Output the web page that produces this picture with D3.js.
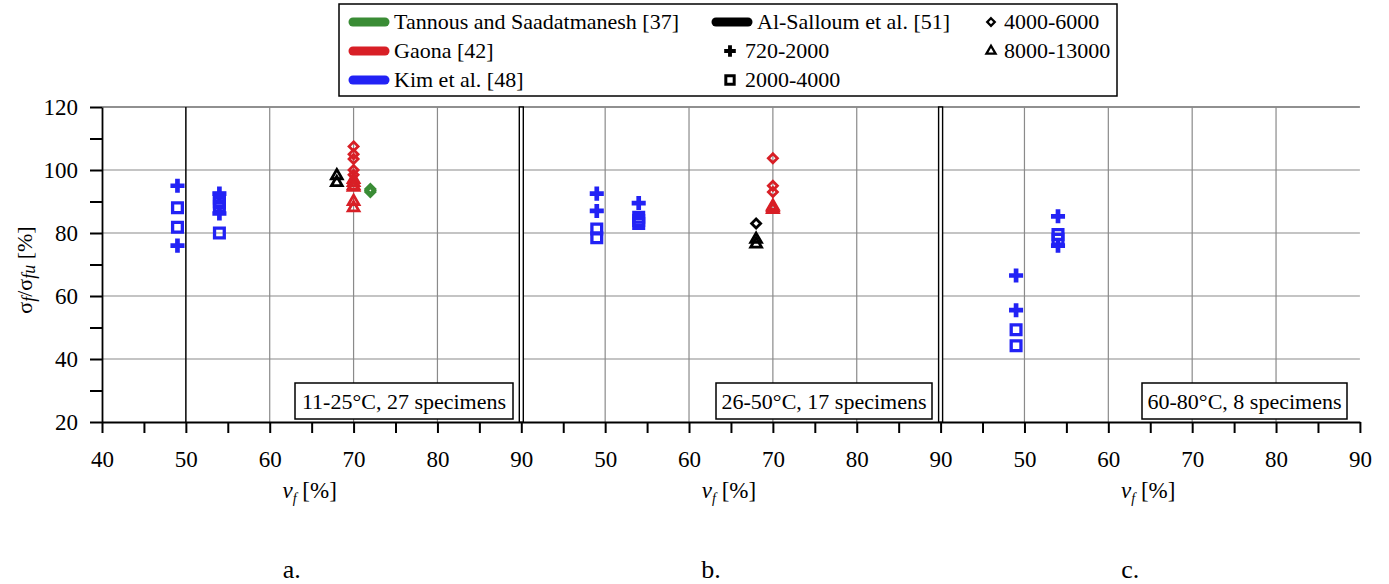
<!DOCTYPE html>
<html>
<head>
<meta charset="utf-8">
<script src="https://cdn.jsdelivr.net/npm/d3@7"></script>
<style>
  body { margin: 0; background: #fff; }
  svg { display: block; }
  svg text { font-family: "Liberation Serif", "DejaVu Serif", "Times New Roman", serif; }
</style>
</head>
<body>
<svg width="1389" height="584"></svg>
<script>
// studies (colour groups) and stiffness ranges (marker shapes)
const studies = ['Tannous and Saadatmanesh [37]', 'Gaona [42]', 'Kim et al. [48]', 'Al-Salloum et al. [51]'];
const studyColors = ['#3a8c35', '#d81f26', '#2222f5', '#000000'];
const ranges = ['720-2000', '2000-4000', '4000-6000', '8000-13000'];

const panelTitles = ['11-25°C, 27 specimens', '26-50°C, 17 specimens', '60-80°C, 8 specimens'];
const panelLetters = ['a.', 'b.', 'c.'];

// [study, range, vf, sigma ratio]
const panelA = [
  [2, 0, 49, 95], [2, 1, 49, 88], [2, 1, 49, 81.8], [2, 0, 49, 76],
  [2, 0, 54, 92.5], [2, 1, 54, 91], [2, 1, 54, 89.5], [2, 1, 54, 88.5], [2, 0, 54, 86.2], [2, 1, 54, 80],
  [1, 2, 70, 107.5], [1, 2, 70, 105], [1, 2, 70, 103.5], [1, 2, 70, 100], [1, 2, 70, 98.5],
  [1, 3, 70, 97], [1, 3, 70, 96], [1, 3, 70, 95], [1, 3, 70, 94.5], [1, 3, 70, 90], [1, 3, 70, 88],
  [0, 2, 72, 94], [0, 2, 72, 93.5], [0, 2, 72, 93],
  [3, 3, 68, 98.2], [3, 3, 68, 96], [2, 1, 54, 90]
];
const panelB = [
  [2, 0, 49, 92.5], [2, 0, 49, 87], [2, 1, 49, 81.3], [2, 1, 49, 78.5],
  [2, 0, 54, 89.5], [2, 1, 54, 85], [2, 1, 54, 84], [2, 1, 54, 83],
  [3, 2, 68, 83], [3, 3, 68, 78], [3, 3, 68, 76.5],
  [1, 2, 70, 103.7], [1, 2, 70, 95], [1, 2, 70, 93], [1, 3, 70, 88.5], [1, 3, 70, 88], [1, 3, 70, 87.5]
];
const panelC = [
  [2, 0, 49, 66.5], [2, 0, 49, 55.5], [2, 1, 49, 49.3], [2, 1, 49, 44.2],
  [2, 0, 54, 85.3], [2, 1, 54, 79.5], [2, 1, 54, 78], [2, 0, 54, 76]
];
const panelData = [panelA, panelB, panelC];

const xTicks = d3.range(40, 91, 5);
const xLabels = [40, 50, 60, 70, 80, 90];
const yTicks = d3.range(20, 121, 10);
const yLabels = [20, 40, 60, 80, 100, 120];

const svg = d3.select('svg');
const serif = '"Liberation Serif", "DejaVu Serif", serif';
const left = 102, panelW = 419.3;
const y = d3.scaleLinear().domain([20, 120]).range([422, 107]);
const xs = [0, 1, 2].map(i => d3.scaleLinear().domain([40, 90]).range([left + i * panelW, left + (i + 1) * panelW]));

const symbols = [
  d3.symbol().type(d3.symbolCross).size(110),
  d3.symbol().type(d3.symbolSquare).size(95),
  d3.symbol().type(d3.symbolDiamond2).size(52),
  d3.symbol().type(d3.symbolTriangle).size(50)
];

function mark(sel, r, color) {
  sel.attr('d', symbols[r]());
  if (r === 0) sel.attr('fill', color).attr('stroke', 'none');
  else sel.attr('fill', 'none').attr('stroke', color).attr('stroke-width', r === 1 ? 3.3 : 2.8);
}

// grid
const grid = svg.append('g').attr('class', 'grid');
grid.selectAll('line.h').data([40, 60, 80, 100]).enter().append('line')
  .attr('x1', xs[0](40)).attr('x2', xs[2](90))
  .attr('y1', d => y(d)).attr('y2', d => y(d))
  .attr('stroke', '#8a8a8a').attr('stroke-width', 1.2);
grid.append('line')
  .attr('x1', xs[0](40)).attr('x2', xs[2](90))
  .attr('y1', y(120)).attr('y2', y(120))
  .attr('stroke', '#222').attr('stroke-width', 1.2);
xs.forEach((x, i) => {
  grid.selectAll('line.v' + i).data([50, 60, 70, 80]).enter().append('line')
    .attr('x1', d => x(d)).attr('x2', d => x(d))
    .attr('y1', y(120)).attr('y2', y(20))
    .attr('stroke', d => (i === 0 && d === 50) ? '#111' : '#8a8a8a')
    .attr('stroke-width', d => (i === 0 && d === 50) ? 1.6 : 1.2);
});

// axes
const yAxis = svg.append('g')
  .attr('transform', `translate(${left},0)`)
  .call(d3.axisLeft(y).tickValues(yTicks).tickSize(12).tickSizeOuter(0)
    .tickFormat(d => yLabels.includes(d) ? d : ''));
yAxis.attr('font-family', serif);
yAxis.select('.domain').attr('stroke', '#000').attr('stroke-width', 1.8);
yAxis.selectAll('.tick line').attr('stroke-width', 2);
yAxis.selectAll('.tick text').attr('font-size', 23).attr('fill', '#000').attr('x', -24);

xs.forEach((x, i) => {
  const ax = svg.append('g')
    .attr('transform', `translate(0,${y(20)})`)
    .call(d3.axisBottom(x).tickValues(i === 0 ? xTicks : xTicks.slice(1)).tickSize(11).tickSizeOuter(0)
      .tickFormat(d => (xLabels.includes(d) && !(i > 0 && d === 40)) ? d : ''));
  ax.attr('font-family', serif);
  ax.select('.domain').attr('stroke', '#000').attr('stroke-width', 2);
  ax.selectAll('.tick line').attr('stroke-width', 2);
  ax.selectAll('.tick text').attr('font-size', 23).attr('fill', '#000').attr('y', 29);

  // x title
  const t = svg.append('text')
    .attr('x', (x.range()[0] + x.range()[1]) / 2 - 2).attr('y', 498)
    .attr('text-anchor', 'middle').attr('font-size', 23);
  t.append('tspan').attr('font-style', 'italic').text('v');
  t.append('tspan').attr('font-style', 'italic').attr('font-size', 14).attr('dy', 5).text('f');
  t.append('tspan').attr('dy', -5).text(' [%]');

  svg.append('text')
    .attr('x', (x.range()[0] + x.range()[1]) / 2 - 20).attr('y', 578)
    .attr('text-anchor', 'middle').attr('font-size', 26).text(panelLetters[i]);
});

// panel separators (double lines)
[xs[0](90), xs[1](90)].forEach(px => {
  svg.append('rect')
    .attr('x', px - 2).attr('y', y(120)).attr('width', 4).attr('height', y(20) - y(120))
    .attr('fill', '#fff').attr('stroke', '#000').attr('stroke-width', 1.4);
});

// condition boxes
const boxes = [[295, 513], [716, 932], [1142, 1347]];
boxes.forEach((b, i) => {
  svg.append('rect')
    .attr('x', b[0]).attr('y', 383).attr('width', b[1] - b[0]).attr('height', 36)
    .attr('fill', '#fff').attr('stroke', '#000').attr('stroke-width', 1.5);
  svg.append('text')
    .attr('x', (b[0] + b[1]) / 2).attr('y', 409)
    .attr('text-anchor', 'middle').attr('font-size', 22).text(panelTitles[i]);
});

// points
panelData.forEach((data, i) => {
  svg.append('g').selectAll('path').data(data).enter().append('path')
    .attr('transform', d => `translate(${xs[i](d[2])},${y(d[3])})`)
    .each(function(d) { mark(d3.select(this), d[1], studyColors[d[0]]); });
});

// y title
const yt = svg.append('text')
  .attr('transform', 'translate(32,270) rotate(-90)')
  .attr('text-anchor', 'middle').attr('font-size', 22);
yt.append('tspan').text('σ');
yt.append('tspan').attr('font-style', 'italic').attr('dy', 3).attr('font-size', 18).text('f');
yt.append('tspan').attr('dy', -3).text('/σ');
yt.append('tspan').attr('font-style', 'italic').attr('dy', 3).attr('font-size', 18).text('fu');
yt.append('tspan').attr('dy', -3).text(' [%]');

// legend
const lg = svg.append('g').attr('class', 'legend');
lg.append('rect').attr('x', 339).attr('y', 4).attr('width', 778).attr('height', 92)
  .attr('fill', '#fff').attr('stroke', '#000').attr('stroke-width', 1.5);
const rowY = [22, 51, 80];
const studyPos = [[0, 0], [0, 1], [0, 2], [1, 0]];
const colX = [353, 716];
studies.forEach((s, k) => {
  const cx = colX[studyPos[k][0]], cy = rowY[studyPos[k][1]];
  lg.append('line').attr('x1', cx).attr('x2', cx + 32).attr('y1', cy).attr('y2', cy)
    .attr('stroke', studyColors[k]).attr('stroke-width', 9).attr('stroke-linecap', 'round');
  lg.append('text').attr('x', cx + 41).attr('y', cy + 7).attr('font-size', 22).text(s);
});
const rangePos = [[730, 51], [730, 80], [991, 22], [991, 51]];
const legendSymbols = [
  d3.symbol().type(d3.symbolCross).size(75),
  d3.symbol().type(d3.symbolSquare).size(70),
  d3.symbol().type(d3.symbolDiamond2).size(36),
  d3.symbol().type(d3.symbolTriangle).size(36)
];
ranges.forEach((r, k) => {
  const p = rangePos[k];
  const m = lg.append('path').attr('transform', `translate(${p[0]},${p[1]})`).attr('d', legendSymbols[k]());
  if (k === 0) m.attr('fill', '#000');
  else m.attr('fill', 'none').attr('stroke', '#000').attr('stroke-width', k === 1 ? 3 : 2.3);
  lg.append('text').attr('x', p[0] + (k < 2 ? 15 : 13)).attr('y', p[1] + 7).attr('font-size', 22).text(r);
});
</script>
</body>
</html>
